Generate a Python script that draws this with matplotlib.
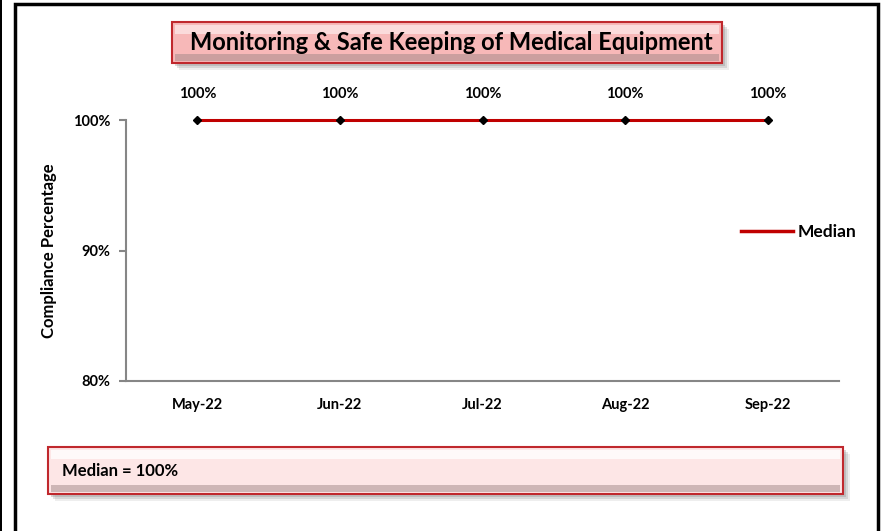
import matplotlib.pyplot as plt
from matplotlib.patches import Rectangle
from matplotlib.lines import Line2D

# data
months = ['May-22', 'Jun-22', 'Jul-22', 'Aug-22', 'Sep-22']
median = [1.00, 1.00, 1.00, 1.00, 1.00]
labels = ['100%', '100%', '100%', '100%', '100%']
yticks = [0.80, 0.90, 1.00]
ytick_labels = ['80%', '90%', '100%']

plt.rcParams['font.family'] = ['Lato', 'DejaVu Sans']
plt.rcParams['font.weight'] = 'bold'

W, H = 883, 531
fig = plt.figure(figsize=(W / 100, H / 100), dpi=100)


def fx(x):
    return x / W


def fy(y):
    return 1 - y / H


def box(x0, y0, x1, y1, fill, top_fill):
    # soft shadow
    for k, a in [(7, 0.15), (5, 0.25), (3, 0.35)]:
        fig.patches.append(Rectangle((fx(x0 + k), fy(y1 + k)), fx(x1 - x0), (y1 - y0) / H,
                                     transform=fig.transFigure, facecolor='#909090',
                                     edgecolor='none', alpha=a, zorder=1))
    fig.patches.append(Rectangle((fx(x0), fy(y1)), fx(x1 - x0), (y1 - y0) / H,
                                 transform=fig.transFigure, facecolor=fill,
                                 edgecolor='#c0282d', linewidth=1.5, zorder=2))
    # bevel highlight / shade
    fig.patches.append(Rectangle((fx(x0 + 3), fy(y0 + 12)), fx(x1 - x0 - 6), 9 / H,
                                 transform=fig.transFigure, facecolor=top_fill,
                                 edgecolor='none', alpha=0.8, zorder=3))
    fig.patches.append(Rectangle((fx(x0 + 3), fy(y1 - 2)), fx(x1 - x0 - 6), 7 / H,
                                 transform=fig.transFigure, facecolor='#a08888',
                                 edgecolor='none', alpha=0.5, zorder=3))


# outer frame
fig.patches.append(Rectangle((fx(15), fy(540)), fx(863), 536 / H, transform=fig.transFigure,
                             facecolor='none', edgecolor='black', linewidth=2.5, zorder=5))
fig.patches.append(Rectangle((0, 0), fx(1.5), 1, transform=fig.transFigure,
                             facecolor='black', edgecolor='none', zorder=5))

ax = fig.add_axes([fx(126), fy(381), fx(839 - 126), (381 - 120) / H])
x = range(len(months))
ax.plot(x, median, color='#c00000', linewidth=2.2, marker='D', markersize=4,
        markerfacecolor='black', markeredgecolor='black', clip_on=False, zorder=4)
for i, lab in enumerate(labels):
    ax.annotate(lab, (i, median[i]), xytext=(0, 19), textcoords='offset points',
                ha='center', va='center', fontsize=10.5, fontweight='bold')

ax.set_xlim(-0.5, len(months) - 0.5)
ax.set_ylim(0.80, 1.00)
ax.set_xticks(list(x))
ax.set_xticklabels(months, fontsize=10.5, fontweight='bold')
ax.set_yticks(yticks)
ax.set_yticklabels(ytick_labels, fontsize=10.5, fontweight='bold')
ax.tick_params(axis='x', length=0, pad=12)
ax.tick_params(axis='y', length=5, color='#868686', width=1.5, pad=6)
for s in ['top', 'right']:
    ax.spines[s].set_visible(False)
for s in ['left', 'bottom']:
    ax.spines[s].set_color('#868686')
    ax.spines[s].set_linewidth(1.5)
ax.set_ylabel('Compliance Percentage', fontsize=12, fontweight='bold', labelpad=12)

handle = Line2D([], [], color='#c00000', linewidth=2.5)
ax.legend([handle], ['Median'], loc='center left',
          bbox_to_anchor=((725 - 126) / (839 - 126), 0.57),
          frameon=False, handlelength=3.0, handletextpad=0.3,
          prop={'weight': 'bold', 'size': 12.5})

# title box
box(172, 22, 722, 63, '#f7b8b8', '#fde4e4')
fig.text(fx(451), fy(43), 'Monitoring & Safe Keeping of Medical Equipment',
         ha='center', va='center', fontsize=17, fontweight='bold', zorder=6)

# median box
box(48, 447, 843, 494, '#fde6e6', '#ffffff')
fig.text(fx(62), fy(471), 'Median = 100%', ha='left', va='center',
         fontsize=12, fontweight='bold', zorder=6)

fig.savefig('out.png', dpi=100)
